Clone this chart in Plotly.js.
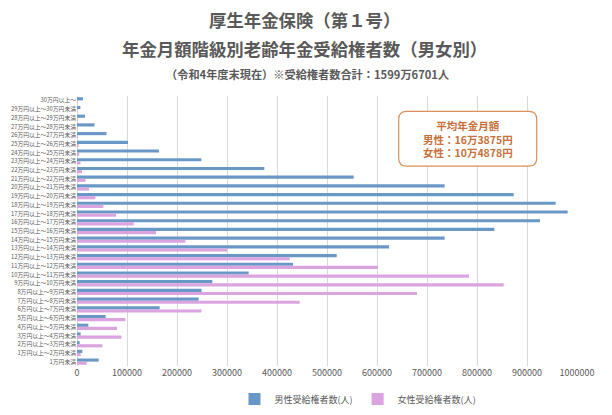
<!DOCTYPE html>
<html>
<head>
<meta charset="utf-8">
<script src="https://cdn.plot.ly/plotly-3.0.1.min.js"></script>
<style>html,body{margin:0;padding:0;background:#fff;}#chart{width:612px;height:415px;}</style>
</head>
<body>
<div id="chart"></div>
<script>
// categories, top to bottom
const categories = [
  "30万円以上～","29万円以上～30万円未満","28万円以上～29万円未満","27万円以上～28万円未満",
  "26万円以上～27万円未満","25万円以上～26万円未満","24万円以上～25万円未満","23万円以上～24万円未満",
  "22万円以上～23万円未満","21万円以上～22万円未満","20万円以上～21万円未満","19万円以上～20万円未満",
  "18万円以上～19万円未満","17万円以上～18万円未満","16万円以上～17万円未満","15万円以上～16万円未満",
  "14万円以上～15万円未満","13万円以上～14万円未満","12万円以上～13万円未満","11万円以上～12万円未満",
  "10万円以上～11万円未満","9万円以上～10万円未満","8万円以上～9万円未満","7万円以上～8万円未満",
  "6万円以上～7万円未満","5万円以上～6万円未満","4万円以上～5万円未満","3万円以上～4万円未満",
  "2万円以上～3万円未満","1万円以上～2万円未満","1万円未満"
];
const maleValues = [
  12000, 6700, 16000, 35000, 59000, 102000, 164000, 248700,
  374700, 553300, 735300, 873300, 957300, 981300, 926000, 834700,
  735300, 624000, 519400, 432000, 343400, 270700, 249000, 243300,
  165300, 57300, 22700, 7300, 5300, 10700, 43300
];
const femaleValues = [
  1000, 600, 1000, 1500, 2000, 3000, 4500, 7000,
  10000, 17000, 24000, 36700, 52700, 78000, 113300, 158000,
  216700, 300000, 425300, 602000, 784000, 853300, 680000, 445300,
  248700, 96700, 80000, 88700, 50700, 7300, 19300
];
const seriesNames = ["男性受給権者数(人)", "女性受給権者数(人)"];
const titleLine1 = "厚生年金保険（第１号）";
const titleLine2 = "年金月額階級別老齢年金受給権者数（男女別）";
const titleLine3 = "（令和4年度末現在）※受給権者数合計：1599万6701人";
const noteLines = ["平均年金月額", "男性：16万3875円", "女性：10万4878円"];
const xTicks = [0,100000,200000,300000,400000,500000,600000,700000,800000,900000,1000000];

const FONT = "'Noto Sans CJK JP', 'Noto Sans', sans-serif";
const GREY = "#595959";

const traces = [
  {type:"bar", orientation:"h", name:seriesNames[0], y:categories, x:maleValues,
   marker:{color:"#6a98c6"}},
  {type:"bar", orientation:"h", name:seriesNames[1], y:categories, x:femaleValues,
   marker:{color:"#dba3e0"}}
];

// rounded note box (pixel-based, converted to paper coords)
const L=77.3, R=577.3, T=95.6, B=366.4;
const px=v=>(v-L)/(R-L), py=v=>(B-v)/(B-T);
const bx0=px(399), bx1=px(537), byT=py(111), byB=py(166);
const rx=8/(R-L), ry=8/(B-T);
const boxPath = `M ${bx0+rx},${byT} L ${bx1-rx},${byT} Q ${bx1},${byT} ${bx1},${byT-ry} L ${bx1},${byB+ry} Q ${bx1},${byB} ${bx1-rx},${byB} L ${bx0+rx},${byB} Q ${bx0},${byB} ${bx0},${byB+ry} L ${bx0},${byT-ry} Q ${bx0},${byT} ${bx0+rx},${byT} Z`;

const layout = {
  width:612, height:415,
  margin:{l:77.3, r:34.7, t:95.6, b:48.6},
  paper_bgcolor:"#fff", plot_bgcolor:"#fff",
  font:{family:FONT, color:GREY},
  barmode:"group", bargap:0.28, bargroupgap:0,
  showlegend:true,
  legend:{orientation:"h", xref:"container", x:358/612, xanchor:"center",
          yref:"container", y:1-399/415, yanchor:"middle",
          font:{size:9, color:GREY}, itemwidth:30, traceorder:"normal"},
  xaxis:{range:[0,1000000], tickvals:xTicks, ticktext:xTicks.map(String),
         showgrid:true, gridcolor:"#d9d9d9", gridwidth:1,
         zeroline:true, zerolinecolor:"#d9d9d9", zerolinewidth:1,
         showline:false, ticks:"", tickfont:{size:9, color:GREY}, fixedrange:true},
  yaxis:{type:"category", autorange:"reversed", showgrid:false, zeroline:false,
         showline:false, ticks:"", tickfont:{size:5.8, color:GREY}, automargin:false},
  shapes:[{type:"path", xref:"paper", yref:"paper", path:boxPath,
           line:{color:"#d9905a", width:1.2}, fillcolor:"#ffffff", layer:"above"}],
  annotations:[
    {xref:"paper", yref:"paper", x:px(305), y:py(19), text:"<b>"+titleLine1+"</b>",
     showarrow:false, font:{size:17.4, color:GREY, family:FONT}, xanchor:"center", yanchor:"middle"},
    {xref:"paper", yref:"paper", x:px(305), y:py(48), text:"<b>"+titleLine2+"</b>",
     showarrow:false, font:{size:17.4, color:GREY, family:FONT}, xanchor:"center", yanchor:"middle"},
    {xref:"paper", yref:"paper", x:px(308), y:py(74), text:"<b>"+titleLine3+"</b>",
     showarrow:false, font:{size:11.2, color:GREY, family:FONT}, xanchor:"center", yanchor:"middle"},
    {xref:"paper", yref:"paper", x:px(468), y:py(138.5), text:noteLines.map(s=>"<b>"+s+"</b>").join("<br>"),
     showarrow:false, font:{size:10.5, color:"#c8703a", family:FONT}, xanchor:"center", yanchor:"middle", align:"center"}
  ]
};

Plotly.newPlot("chart", traces, layout, {displayModeBar:false, staticPlot:true});
</script>
</body>
</html>
